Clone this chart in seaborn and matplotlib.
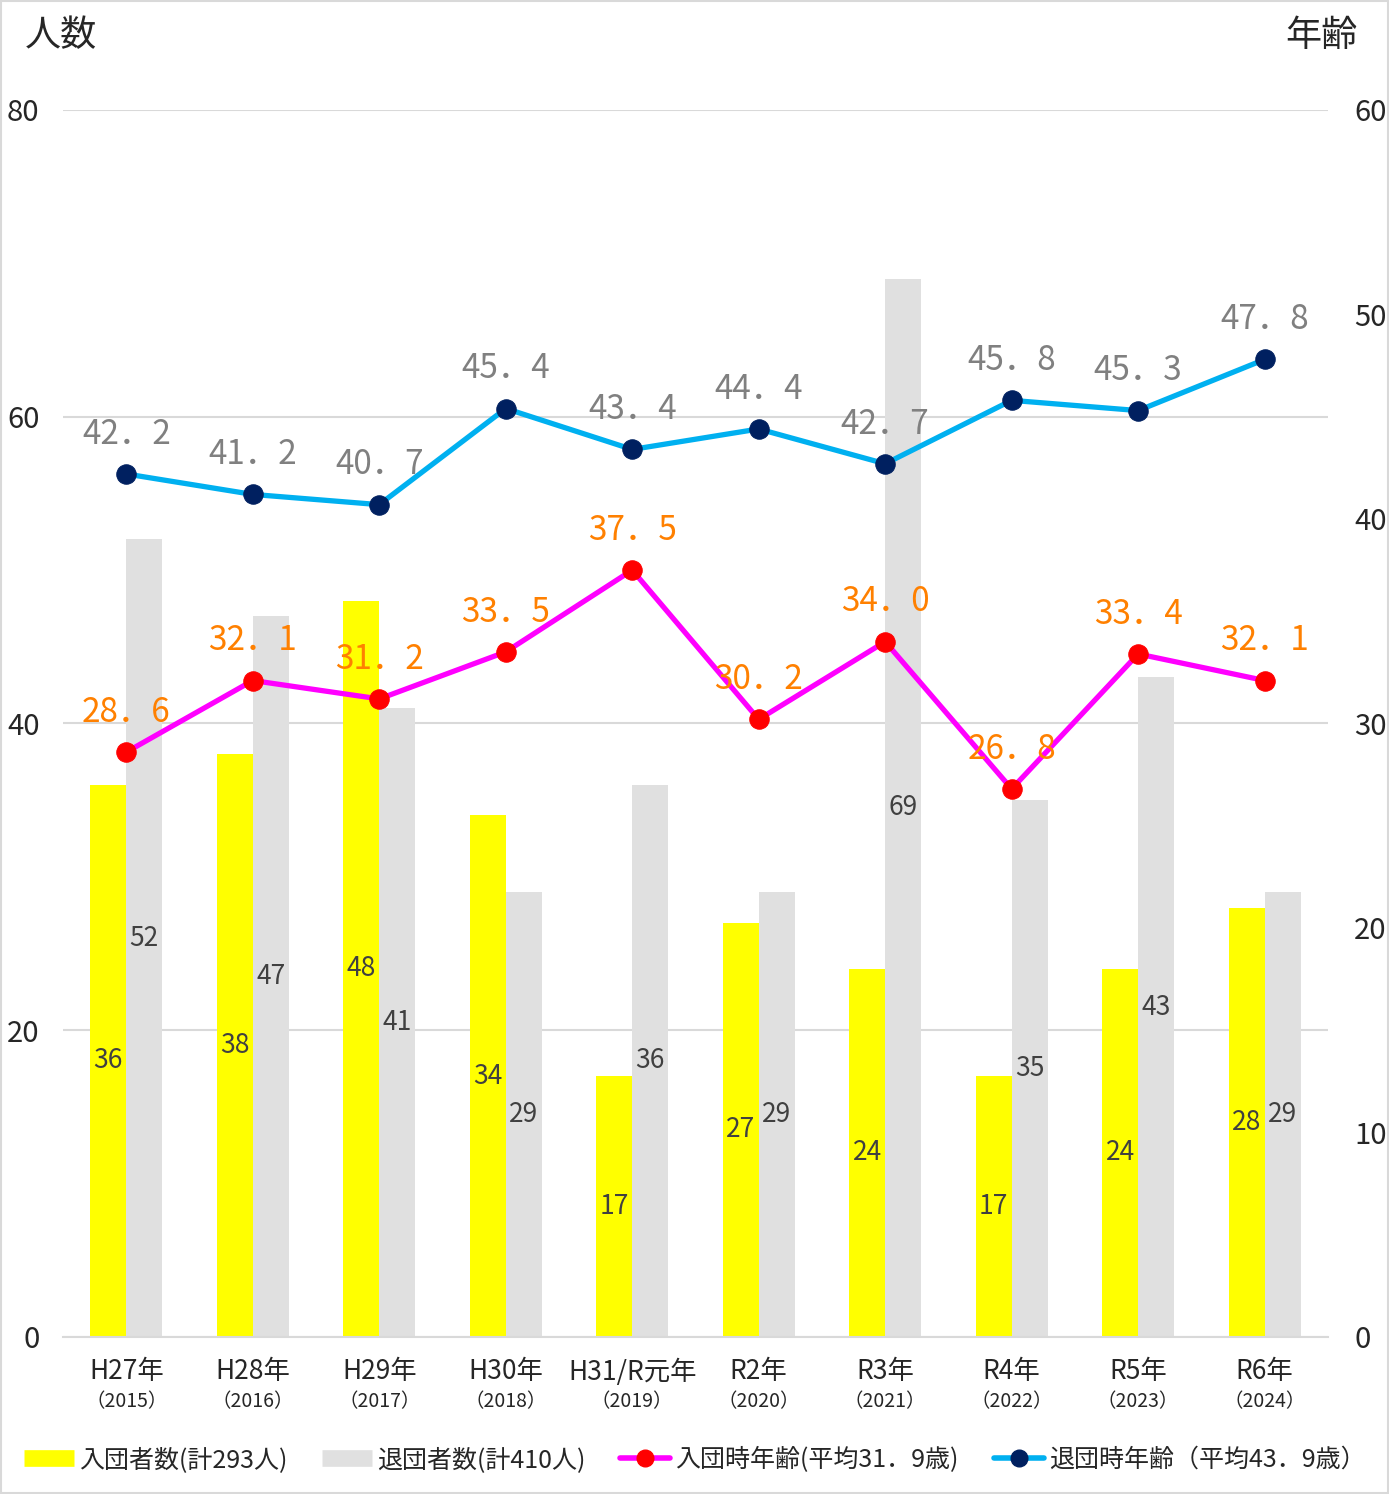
import numpy as np
import pandas as pd
import matplotlib
matplotlib.use("Agg")
import matplotlib.pyplot as plt
import seaborn as sns
from matplotlib.lines import Line2D
from matplotlib.patches import Rectangle

# data
eras = ["H27年", "H28年", "H29年", "H30年", "H31/R元年", "R2年", "R3年", "R4年", "R5年", "R6年"]
years = ["（2015）", "（2016）", "（2017）", "（2018）", "（2019）", "（2020）", "（2021）", "（2022）", "（2023）", "（2024）"]
joined = [36, 38, 48, 34, 17, 27, 24, 17, 24, 28]
left = [52, 47, 41, 29, 36, 29, 69, 35, 43, 29]
join_age = [28.6, 32.1, 31.2, 33.5, 37.5, 30.2, 34.0, 26.8, 33.4, 32.1]
leave_age = [42.2, 41.2, 40.7, 45.4, 43.4, 44.4, 42.7, 45.8, 45.3, 47.8]

labels = ["入団者数(計293人)", "退団者数(計410人)", "入団時年齢(平均31．9歳)", "退団時年齢（平均43．9歳）"]

sns.set_theme(style="white")
plt.rcParams['font.family'] = ['Noto Sans CJK JP', 'DejaVu Sans']

df = pd.DataFrame({
    "cat": eras * 2,
    "n": joined + left,
    "kind": ["join"] * 10 + ["leave"] * 10,
})

fig = plt.figure(figsize=(13.89, 14.94), dpi=100)
ax = fig.add_axes([0.0454, 0.1051, 0.9106, 0.8213])

sns.barplot(data=df, x="cat", y="n", hue="kind", palette={"join": "#FFFF00", "leave": "#E0E0E0"},
            width=0.57, dodge=True, legend=False, ax=ax, saturation=1, linewidth=0)

ax.set_xlim(-0.5, 9.5)
ax.set_ylim(0, 80)
ax.set_yticks([0, 20, 40, 60, 80])
ax.yaxis.grid(True, color="#D9D9D9", lw=1.5)
ax.set_axisbelow(True)
for s in ["top", "right", "left"]:
    ax.spines[s].set_visible(False)
ax.spines["bottom"].set_color("#D9D9D9")
ax.spines["bottom"].set_linewidth(1.5)
ax.set_xlabel("")
ax.set_ylabel("")
ax.tick_params(axis="y", length=0, pad=17, labelsize=21)
ax.set_xticks(range(10))
ax.set_xticklabels([])
ax.tick_params(axis="x", which="major", length=0)
ax.set_xticks(np.arange(-0.5, 10, 1), minor=True)
ax.tick_params(axis="x", which="minor", length=12, width=1.5, color="#D9D9D9", direction="out")

tr = ax.get_xaxis_transform()
for i in range(10):
    ax.text(i, -0.0285, eras[i], transform=tr, ha="center", va="center", fontsize=19)
    ax.text(i, -0.0525, years[i], transform=tr, ha="center", va="center", fontsize=14)

bw = 0.285
for i in range(10):
    ax.text(i - bw / 2, joined[i] / 2, str(joined[i]), ha="center", va="center", fontsize=19, color="#404040")
    ax.text(i + bw / 2, left[i] / 2, str(left[i]), ha="center", va="center", fontsize=19, color="#404040")

ax2 = ax.twinx()
x = np.arange(10)
sns.lineplot(x=x, y=leave_age, ax=ax2, color="#00B0F0", lw=3.8, marker="o", markersize=14,
             markerfacecolor="#002060", markeredgecolor="#002060", legend=False)
sns.lineplot(x=x, y=join_age, ax=ax2, color="#FF00FF", lw=3.8, marker="o", markersize=14,
             markerfacecolor="#FF0000", markeredgecolor="#FF0000", legend=False)
ax2.set_ylim(0, 60)
ax2.set_xlim(-0.5, 9.5)
ax2.set_yticks([0, 10, 20, 30, 40, 50, 60])
ax2.tick_params(axis="y", length=0, pad=19, labelsize=21)
for s in ["top", "right", "left", "bottom"]:
    ax2.spines[s].set_visible(False)

for i in range(10):
    ax2.annotate(f"{leave_age[i]:.1f}".replace(".", "．"), (i, leave_age[i]), xytext=(0, 16),
                 textcoords="offset points", ha="center", va="bottom", fontsize=24, color="#808080")
    ax2.annotate(f"{join_age[i]:.1f}".replace(".", "．"), (i, join_age[i]), xytext=(0, 16),
                 textcoords="offset points", ha="center", va="bottom", fontsize=24, color="#FF8000")

fig.text(0.018, 0.976, "人数", fontsize=26, ha="left", va="center")
fig.text(0.977, 0.976, "年齢", fontsize=26, ha="right", va="center")

handles = [
    Line2D([0], [0], color="#FFFF00", lw=12, solid_capstyle="butt"),
    Line2D([0], [0], color="#E0E0E0", lw=12, solid_capstyle="butt"),
    Line2D([0], [0], color="#FF00FF", lw=4, marker="o", markersize=12,
           markerfacecolor="#FF0000", markeredgecolor="#FF0000", solid_capstyle="round"),
    Line2D([0], [0], color="#00B0F0", lw=4, marker="o", markersize=12,
           markerfacecolor="#002060", markeredgecolor="#002060", solid_capstyle="round"),
]
fig.legend(handles, labels, loc="center", bbox_to_anchor=(0.5, 0.023), ncol=4, frameon=False,
           fontsize=18, handlelength=2.0, handletextpad=0.2, columnspacing=1.4)

fig.patches.append(Rectangle((0.001, 0.001), 0.998, 0.998, transform=fig.transFigure,
                             fill=False, ec="#D9D9D9", lw=1.5))

fig.savefig("out.png", dpi=100)
